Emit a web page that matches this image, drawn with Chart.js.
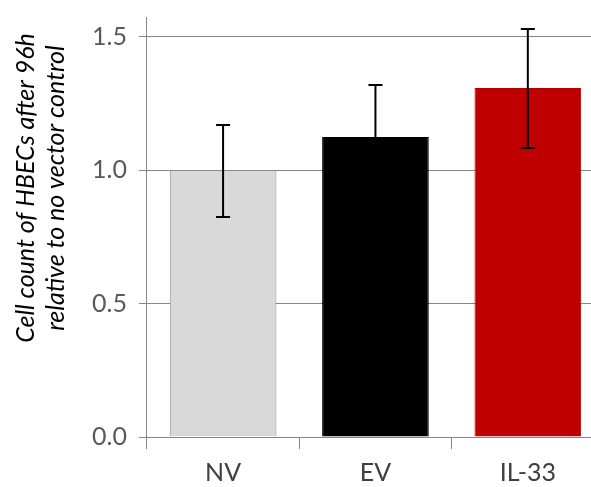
<!DOCTYPE html>
<html>
<head>
<meta charset="utf-8">
<script src="https://cdn.jsdelivr.net/npm/chart.js@4"></script>
<style>
html,body{margin:0;padding:0;background:#fff;overflow:hidden;}
#wrap{width:604px;height:507px;margin-top:-10px;}
</style>
</head>
<body>
<div id="wrap"><canvas id="chart" width="604" height="507"></canvas></div>
<script>
const categories = ["NV", "EV", "IL-33"];
const values = [1.0, 1.125, 1.309];
const errLow = [0.825, 0.93, 1.084];
const errHigh = [1.17, 1.32, 1.53];
const yTicks = [0, 0.5, 1.0, 1.5];
const yTitle = ["Cell count of HBECs after 96h", "relative to no vector control"];

// error bars, drawn from the y scale
const errorBars = {
  id: "errorBars",
  afterDatasetsDraw(chart){
    const ctx = chart.ctx;
    const y = chart.scales.y;
    const meta = chart.getDatasetMeta(0);
    ctx.save();
    ctx.strokeStyle = "#000";
    ctx.lineWidth = 2;
    meta.data.forEach((bar, i)=>{
      const x = bar.x;
      const top = y.getPixelForValue(errHigh[i]);
      const bot = y.getPixelForValue(errLow[i]);
      ctx.beginPath();
      ctx.moveTo(x, top); ctx.lineTo(x, bot);
      ctx.moveTo(x - 7, top); ctx.lineTo(x + 7, top);
      ctx.moveTo(x - 7, bot); ctx.lineTo(x + 7, bot);
      ctx.stroke();
    });
    ctx.restore();
  }
};

// y title: two italic lines, sitting a bit above the middle like the original
// (canvas is shifted up 10px, so 198 here lands at 188 on screen)
const yTitlePlugin = {
  id: "yTitlePlugin",
  afterDraw(chart){
    const ctx = chart.ctx;
    ctx.save();
    ctx.translate(0, 198);
    ctx.rotate(-Math.PI / 2);
    ctx.fillStyle = "#000";
    ctx.font = "italic 25px Lato";
    ctx.textAlign = "center";
    ctx.textBaseline = "alphabetic";
    ctx.fillText(yTitle[0], 0, 34);
    ctx.fillText(yTitle[1], 0, 64);
    ctx.restore();
  }
};

new Chart(document.getElementById("chart"), {
  type: "bar",
  data: {
    labels: categories,
    datasets: [{
      data: values,
      backgroundColor: ["#d9d9d9", "#000000", "#c00000"],
      borderColor: ["#8c8c8c", "#000000", "#b00000"],
      borderWidth: 1,
      barPercentage: 0.7,
      categoryPercentage: 1.0
    }]
  },
  options: {
    responsive: false,
    animation: false,
    layout: {padding: {left: 80, top: 0, right: 0, bottom: 0}},
    plugins: {legend: {display: false}, tooltip: {enabled: false}},
    scales: {
      x: {
        grid: {offset: true, drawOnChartArea: false, color: "#868686", tickLength: 12},
        border: {color: "#868686"},
        ticks: {color: "#404040", font: {family: "Lato", size: 25}, padding: 9}
      },
      y: {
        min: 0,
        max: 1.575,
        afterBuildTicks: (scale)=>{ scale.ticks = yTicks.map(v=>({value: v})); },
        grid: {color: "#868686", tickLength: 8},
        border: {color: "#868686"},
        ticks: {
          color: "#595959",
          font: {family: "Lato", size: 25},
          padding: 12,
          callback: (v)=>Number(v).toFixed(1)
        }
      }
    }
  },
  plugins: [errorBars, yTitlePlugin]
});
</script>
</body>
</html>
